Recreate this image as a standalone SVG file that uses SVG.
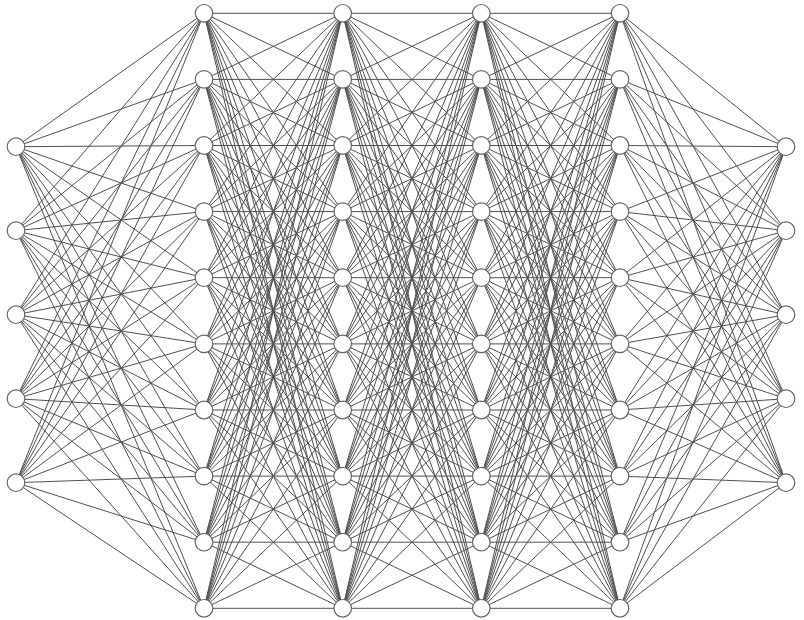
<svg xmlns="http://www.w3.org/2000/svg" width="804" height="620" viewBox="0 0 804 620">
<style>
.e line{stroke:#505050;stroke-width:1;fill:none}
.n{fill:#fff;stroke:#666;stroke-width:1.2}
</style>
<rect width="804" height="620" fill="#fff"/>
<g id="connectors" class="e">
<line x1="16" y1="146.7" x2="204" y2="13.3"/><line x1="16" y1="146.7" x2="204" y2="79.4"/><line x1="16" y1="146.7" x2="204" y2="145.5"/><line x1="16" y1="146.7" x2="204" y2="211.6"/><line x1="16" y1="146.7" x2="204" y2="277.7"/><line x1="16" y1="146.7" x2="204" y2="343.9"/><line x1="16" y1="146.7" x2="204" y2="410"/><line x1="16" y1="146.7" x2="204" y2="476.1"/><line x1="16" y1="146.7" x2="204" y2="542.2"/><line x1="16" y1="146.7" x2="204" y2="608.3"/>
<line x1="16" y1="230.7" x2="204" y2="13.3"/><line x1="16" y1="230.7" x2="204" y2="79.4"/><line x1="16" y1="230.7" x2="204" y2="145.5"/><line x1="16" y1="230.7" x2="204" y2="211.6"/><line x1="16" y1="230.7" x2="204" y2="277.7"/><line x1="16" y1="230.7" x2="204" y2="343.9"/><line x1="16" y1="230.7" x2="204" y2="410"/><line x1="16" y1="230.7" x2="204" y2="476.1"/><line x1="16" y1="230.7" x2="204" y2="542.2"/><line x1="16" y1="230.7" x2="204" y2="608.3"/>
<line x1="16" y1="314.7" x2="204" y2="13.3"/><line x1="16" y1="314.7" x2="204" y2="79.4"/><line x1="16" y1="314.7" x2="204" y2="145.5"/><line x1="16" y1="314.7" x2="204" y2="211.6"/><line x1="16" y1="314.7" x2="204" y2="277.7"/><line x1="16" y1="314.7" x2="204" y2="343.9"/><line x1="16" y1="314.7" x2="204" y2="410"/><line x1="16" y1="314.7" x2="204" y2="476.1"/><line x1="16" y1="314.7" x2="204" y2="542.2"/><line x1="16" y1="314.7" x2="204" y2="608.3"/>
<line x1="16" y1="398.7" x2="204" y2="13.3"/><line x1="16" y1="398.7" x2="204" y2="79.4"/><line x1="16" y1="398.7" x2="204" y2="145.5"/><line x1="16" y1="398.7" x2="204" y2="211.6"/><line x1="16" y1="398.7" x2="204" y2="277.7"/><line x1="16" y1="398.7" x2="204" y2="343.9"/><line x1="16" y1="398.7" x2="204" y2="410"/><line x1="16" y1="398.7" x2="204" y2="476.1"/><line x1="16" y1="398.7" x2="204" y2="542.2"/><line x1="16" y1="398.7" x2="204" y2="608.3"/>
<line x1="16" y1="482.7" x2="204" y2="13.3"/><line x1="16" y1="482.7" x2="204" y2="79.4"/><line x1="16" y1="482.7" x2="204" y2="145.5"/><line x1="16" y1="482.7" x2="204" y2="211.6"/><line x1="16" y1="482.7" x2="204" y2="277.7"/><line x1="16" y1="482.7" x2="204" y2="343.9"/><line x1="16" y1="482.7" x2="204" y2="410"/><line x1="16" y1="482.7" x2="204" y2="476.1"/><line x1="16" y1="482.7" x2="204" y2="542.2"/><line x1="16" y1="482.7" x2="204" y2="608.3"/>

<line x1="204" y1="13.3" x2="342.7" y2="13.3"/><line x1="204" y1="13.3" x2="342.7" y2="79.4"/><line x1="204" y1="13.3" x2="342.7" y2="145.5"/><line x1="204" y1="13.3" x2="342.7" y2="211.6"/><line x1="204" y1="13.3" x2="342.7" y2="277.7"/><line x1="204" y1="13.3" x2="342.7" y2="343.9"/><line x1="204" y1="13.3" x2="342.7" y2="410"/><line x1="204" y1="13.3" x2="342.7" y2="476.1"/><line x1="204" y1="13.3" x2="342.7" y2="542.2"/><line x1="204" y1="13.3" x2="342.7" y2="608.3"/>
<line x1="204" y1="79.4" x2="342.7" y2="13.3"/><line x1="204" y1="79.4" x2="342.7" y2="79.4"/><line x1="204" y1="79.4" x2="342.7" y2="145.5"/><line x1="204" y1="79.4" x2="342.7" y2="211.6"/><line x1="204" y1="79.4" x2="342.7" y2="277.7"/><line x1="204" y1="79.4" x2="342.7" y2="343.9"/><line x1="204" y1="79.4" x2="342.7" y2="410"/><line x1="204" y1="79.4" x2="342.7" y2="476.1"/><line x1="204" y1="79.4" x2="342.7" y2="542.2"/><line x1="204" y1="79.4" x2="342.7" y2="608.3"/>
<line x1="204" y1="145.5" x2="342.7" y2="13.3"/><line x1="204" y1="145.5" x2="342.7" y2="79.4"/><line x1="204" y1="145.5" x2="342.7" y2="145.5"/><line x1="204" y1="145.5" x2="342.7" y2="211.6"/><line x1="204" y1="145.5" x2="342.7" y2="277.7"/><line x1="204" y1="145.5" x2="342.7" y2="343.9"/><line x1="204" y1="145.5" x2="342.7" y2="410"/><line x1="204" y1="145.5" x2="342.7" y2="476.1"/><line x1="204" y1="145.5" x2="342.7" y2="542.2"/><line x1="204" y1="145.5" x2="342.7" y2="608.3"/>
<line x1="204" y1="211.6" x2="342.7" y2="13.3"/><line x1="204" y1="211.6" x2="342.7" y2="79.4"/><line x1="204" y1="211.6" x2="342.7" y2="145.5"/><line x1="204" y1="211.6" x2="342.7" y2="211.6"/><line x1="204" y1="211.6" x2="342.7" y2="277.7"/><line x1="204" y1="211.6" x2="342.7" y2="343.9"/><line x1="204" y1="211.6" x2="342.7" y2="410"/><line x1="204" y1="211.6" x2="342.7" y2="476.1"/><line x1="204" y1="211.6" x2="342.7" y2="542.2"/><line x1="204" y1="211.6" x2="342.7" y2="608.3"/>
<line x1="204" y1="277.7" x2="342.7" y2="13.3"/><line x1="204" y1="277.7" x2="342.7" y2="79.4"/><line x1="204" y1="277.7" x2="342.7" y2="145.5"/><line x1="204" y1="277.7" x2="342.7" y2="211.6"/><line x1="204" y1="277.7" x2="342.7" y2="277.7"/><line x1="204" y1="277.7" x2="342.7" y2="343.9"/><line x1="204" y1="277.7" x2="342.7" y2="410"/><line x1="204" y1="277.7" x2="342.7" y2="476.1"/><line x1="204" y1="277.7" x2="342.7" y2="542.2"/><line x1="204" y1="277.7" x2="342.7" y2="608.3"/>
<line x1="204" y1="343.9" x2="342.7" y2="13.3"/><line x1="204" y1="343.9" x2="342.7" y2="79.4"/><line x1="204" y1="343.9" x2="342.7" y2="145.5"/><line x1="204" y1="343.9" x2="342.7" y2="211.6"/><line x1="204" y1="343.9" x2="342.7" y2="277.7"/><line x1="204" y1="343.9" x2="342.7" y2="343.9"/><line x1="204" y1="343.9" x2="342.7" y2="410"/><line x1="204" y1="343.9" x2="342.7" y2="476.1"/><line x1="204" y1="343.9" x2="342.7" y2="542.2"/><line x1="204" y1="343.9" x2="342.7" y2="608.3"/>
<line x1="204" y1="410" x2="342.7" y2="13.3"/><line x1="204" y1="410" x2="342.7" y2="79.4"/><line x1="204" y1="410" x2="342.7" y2="145.5"/><line x1="204" y1="410" x2="342.7" y2="211.6"/><line x1="204" y1="410" x2="342.7" y2="277.7"/><line x1="204" y1="410" x2="342.7" y2="343.9"/><line x1="204" y1="410" x2="342.7" y2="410"/><line x1="204" y1="410" x2="342.7" y2="476.1"/><line x1="204" y1="410" x2="342.7" y2="542.2"/><line x1="204" y1="410" x2="342.7" y2="608.3"/>
<line x1="204" y1="476.1" x2="342.7" y2="13.3"/><line x1="204" y1="476.1" x2="342.7" y2="79.4"/><line x1="204" y1="476.1" x2="342.7" y2="145.5"/><line x1="204" y1="476.1" x2="342.7" y2="211.6"/><line x1="204" y1="476.1" x2="342.7" y2="277.7"/><line x1="204" y1="476.1" x2="342.7" y2="343.9"/><line x1="204" y1="476.1" x2="342.7" y2="410"/><line x1="204" y1="476.1" x2="342.7" y2="476.1"/><line x1="204" y1="476.1" x2="342.7" y2="542.2"/><line x1="204" y1="476.1" x2="342.7" y2="608.3"/>
<line x1="204" y1="542.2" x2="342.7" y2="13.3"/><line x1="204" y1="542.2" x2="342.7" y2="79.4"/><line x1="204" y1="542.2" x2="342.7" y2="145.5"/><line x1="204" y1="542.2" x2="342.7" y2="211.6"/><line x1="204" y1="542.2" x2="342.7" y2="277.7"/><line x1="204" y1="542.2" x2="342.7" y2="343.9"/><line x1="204" y1="542.2" x2="342.7" y2="410"/><line x1="204" y1="542.2" x2="342.7" y2="476.1"/><line x1="204" y1="542.2" x2="342.7" y2="542.2"/><line x1="204" y1="542.2" x2="342.7" y2="608.3"/>
<line x1="204" y1="608.3" x2="342.7" y2="13.3"/><line x1="204" y1="608.3" x2="342.7" y2="79.4"/><line x1="204" y1="608.3" x2="342.7" y2="145.5"/><line x1="204" y1="608.3" x2="342.7" y2="211.6"/><line x1="204" y1="608.3" x2="342.7" y2="277.7"/><line x1="204" y1="608.3" x2="342.7" y2="343.9"/><line x1="204" y1="608.3" x2="342.7" y2="410"/><line x1="204" y1="608.3" x2="342.7" y2="476.1"/><line x1="204" y1="608.3" x2="342.7" y2="542.2"/><line x1="204" y1="608.3" x2="342.7" y2="608.3"/>

<line x1="342.7" y1="13.3" x2="481.3" y2="13.3"/><line x1="342.7" y1="13.3" x2="481.3" y2="79.4"/><line x1="342.7" y1="13.3" x2="481.3" y2="145.5"/><line x1="342.7" y1="13.3" x2="481.3" y2="211.6"/><line x1="342.7" y1="13.3" x2="481.3" y2="277.7"/><line x1="342.7" y1="13.3" x2="481.3" y2="343.9"/><line x1="342.7" y1="13.3" x2="481.3" y2="410"/><line x1="342.7" y1="13.3" x2="481.3" y2="476.1"/><line x1="342.7" y1="13.3" x2="481.3" y2="542.2"/><line x1="342.7" y1="13.3" x2="481.3" y2="608.3"/>
<line x1="342.7" y1="79.4" x2="481.3" y2="13.3"/><line x1="342.7" y1="79.4" x2="481.3" y2="79.4"/><line x1="342.7" y1="79.4" x2="481.3" y2="145.5"/><line x1="342.7" y1="79.4" x2="481.3" y2="211.6"/><line x1="342.7" y1="79.4" x2="481.3" y2="277.7"/><line x1="342.7" y1="79.4" x2="481.3" y2="343.9"/><line x1="342.7" y1="79.4" x2="481.3" y2="410"/><line x1="342.7" y1="79.4" x2="481.3" y2="476.1"/><line x1="342.7" y1="79.4" x2="481.3" y2="542.2"/><line x1="342.7" y1="79.4" x2="481.3" y2="608.3"/>
<line x1="342.7" y1="145.5" x2="481.3" y2="13.3"/><line x1="342.7" y1="145.5" x2="481.3" y2="79.4"/><line x1="342.7" y1="145.5" x2="481.3" y2="145.5"/><line x1="342.7" y1="145.5" x2="481.3" y2="211.6"/><line x1="342.7" y1="145.5" x2="481.3" y2="277.7"/><line x1="342.7" y1="145.5" x2="481.3" y2="343.9"/><line x1="342.7" y1="145.5" x2="481.3" y2="410"/><line x1="342.7" y1="145.5" x2="481.3" y2="476.1"/><line x1="342.7" y1="145.5" x2="481.3" y2="542.2"/><line x1="342.7" y1="145.5" x2="481.3" y2="608.3"/>
<line x1="342.7" y1="211.6" x2="481.3" y2="13.3"/><line x1="342.7" y1="211.6" x2="481.3" y2="79.4"/><line x1="342.7" y1="211.6" x2="481.3" y2="145.5"/><line x1="342.7" y1="211.6" x2="481.3" y2="211.6"/><line x1="342.7" y1="211.6" x2="481.3" y2="277.7"/><line x1="342.7" y1="211.6" x2="481.3" y2="343.9"/><line x1="342.7" y1="211.6" x2="481.3" y2="410"/><line x1="342.7" y1="211.6" x2="481.3" y2="476.1"/><line x1="342.7" y1="211.6" x2="481.3" y2="542.2"/><line x1="342.7" y1="211.6" x2="481.3" y2="608.3"/>
<line x1="342.7" y1="277.7" x2="481.3" y2="13.3"/><line x1="342.7" y1="277.7" x2="481.3" y2="79.4"/><line x1="342.7" y1="277.7" x2="481.3" y2="145.5"/><line x1="342.7" y1="277.7" x2="481.3" y2="211.6"/><line x1="342.7" y1="277.7" x2="481.3" y2="277.7"/><line x1="342.7" y1="277.7" x2="481.3" y2="343.9"/><line x1="342.7" y1="277.7" x2="481.3" y2="410"/><line x1="342.7" y1="277.7" x2="481.3" y2="476.1"/><line x1="342.7" y1="277.7" x2="481.3" y2="542.2"/><line x1="342.7" y1="277.7" x2="481.3" y2="608.3"/>
<line x1="342.7" y1="343.9" x2="481.3" y2="13.3"/><line x1="342.7" y1="343.9" x2="481.3" y2="79.4"/><line x1="342.7" y1="343.9" x2="481.3" y2="145.5"/><line x1="342.7" y1="343.9" x2="481.3" y2="211.6"/><line x1="342.7" y1="343.9" x2="481.3" y2="277.7"/><line x1="342.7" y1="343.9" x2="481.3" y2="343.9"/><line x1="342.7" y1="343.9" x2="481.3" y2="410"/><line x1="342.7" y1="343.9" x2="481.3" y2="476.1"/><line x1="342.7" y1="343.9" x2="481.3" y2="542.2"/><line x1="342.7" y1="343.9" x2="481.3" y2="608.3"/>
<line x1="342.7" y1="410" x2="481.3" y2="13.3"/><line x1="342.7" y1="410" x2="481.3" y2="79.4"/><line x1="342.7" y1="410" x2="481.3" y2="145.5"/><line x1="342.7" y1="410" x2="481.3" y2="211.6"/><line x1="342.7" y1="410" x2="481.3" y2="277.7"/><line x1="342.7" y1="410" x2="481.3" y2="343.9"/><line x1="342.7" y1="410" x2="481.3" y2="410"/><line x1="342.7" y1="410" x2="481.3" y2="476.1"/><line x1="342.7" y1="410" x2="481.3" y2="542.2"/><line x1="342.7" y1="410" x2="481.3" y2="608.3"/>
<line x1="342.7" y1="476.1" x2="481.3" y2="13.3"/><line x1="342.7" y1="476.1" x2="481.3" y2="79.4"/><line x1="342.7" y1="476.1" x2="481.3" y2="145.5"/><line x1="342.7" y1="476.1" x2="481.3" y2="211.6"/><line x1="342.7" y1="476.1" x2="481.3" y2="277.7"/><line x1="342.7" y1="476.1" x2="481.3" y2="343.9"/><line x1="342.7" y1="476.1" x2="481.3" y2="410"/><line x1="342.7" y1="476.1" x2="481.3" y2="476.1"/><line x1="342.7" y1="476.1" x2="481.3" y2="542.2"/><line x1="342.7" y1="476.1" x2="481.3" y2="608.3"/>
<line x1="342.7" y1="542.2" x2="481.3" y2="13.3"/><line x1="342.7" y1="542.2" x2="481.3" y2="79.4"/><line x1="342.7" y1="542.2" x2="481.3" y2="145.5"/><line x1="342.7" y1="542.2" x2="481.3" y2="211.6"/><line x1="342.7" y1="542.2" x2="481.3" y2="277.7"/><line x1="342.7" y1="542.2" x2="481.3" y2="343.9"/><line x1="342.7" y1="542.2" x2="481.3" y2="410"/><line x1="342.7" y1="542.2" x2="481.3" y2="476.1"/><line x1="342.7" y1="542.2" x2="481.3" y2="542.2"/><line x1="342.7" y1="542.2" x2="481.3" y2="608.3"/>
<line x1="342.7" y1="608.3" x2="481.3" y2="13.3"/><line x1="342.7" y1="608.3" x2="481.3" y2="79.4"/><line x1="342.7" y1="608.3" x2="481.3" y2="145.5"/><line x1="342.7" y1="608.3" x2="481.3" y2="211.6"/><line x1="342.7" y1="608.3" x2="481.3" y2="277.7"/><line x1="342.7" y1="608.3" x2="481.3" y2="343.9"/><line x1="342.7" y1="608.3" x2="481.3" y2="410"/><line x1="342.7" y1="608.3" x2="481.3" y2="476.1"/><line x1="342.7" y1="608.3" x2="481.3" y2="542.2"/><line x1="342.7" y1="608.3" x2="481.3" y2="608.3"/>

<line x1="481.3" y1="13.3" x2="620" y2="13.3"/><line x1="481.3" y1="13.3" x2="620" y2="79.4"/><line x1="481.3" y1="13.3" x2="620" y2="145.5"/><line x1="481.3" y1="13.3" x2="620" y2="211.6"/><line x1="481.3" y1="13.3" x2="620" y2="277.7"/><line x1="481.3" y1="13.3" x2="620" y2="343.9"/><line x1="481.3" y1="13.3" x2="620" y2="410"/><line x1="481.3" y1="13.3" x2="620" y2="476.1"/><line x1="481.3" y1="13.3" x2="620" y2="542.2"/><line x1="481.3" y1="13.3" x2="620" y2="608.3"/>
<line x1="481.3" y1="79.4" x2="620" y2="13.3"/><line x1="481.3" y1="79.4" x2="620" y2="79.4"/><line x1="481.3" y1="79.4" x2="620" y2="145.5"/><line x1="481.3" y1="79.4" x2="620" y2="211.6"/><line x1="481.3" y1="79.4" x2="620" y2="277.7"/><line x1="481.3" y1="79.4" x2="620" y2="343.9"/><line x1="481.3" y1="79.4" x2="620" y2="410"/><line x1="481.3" y1="79.4" x2="620" y2="476.1"/><line x1="481.3" y1="79.4" x2="620" y2="542.2"/><line x1="481.3" y1="79.4" x2="620" y2="608.3"/>
<line x1="481.3" y1="145.5" x2="620" y2="13.3"/><line x1="481.3" y1="145.5" x2="620" y2="79.4"/><line x1="481.3" y1="145.5" x2="620" y2="145.5"/><line x1="481.3" y1="145.5" x2="620" y2="211.6"/><line x1="481.3" y1="145.5" x2="620" y2="277.7"/><line x1="481.3" y1="145.5" x2="620" y2="343.9"/><line x1="481.3" y1="145.5" x2="620" y2="410"/><line x1="481.3" y1="145.5" x2="620" y2="476.1"/><line x1="481.3" y1="145.5" x2="620" y2="542.2"/><line x1="481.3" y1="145.5" x2="620" y2="608.3"/>
<line x1="481.3" y1="211.6" x2="620" y2="13.3"/><line x1="481.3" y1="211.6" x2="620" y2="79.4"/><line x1="481.3" y1="211.6" x2="620" y2="145.5"/><line x1="481.3" y1="211.6" x2="620" y2="211.6"/><line x1="481.3" y1="211.6" x2="620" y2="277.7"/><line x1="481.3" y1="211.6" x2="620" y2="343.9"/><line x1="481.3" y1="211.6" x2="620" y2="410"/><line x1="481.3" y1="211.6" x2="620" y2="476.1"/><line x1="481.3" y1="211.6" x2="620" y2="542.2"/><line x1="481.3" y1="211.6" x2="620" y2="608.3"/>
<line x1="481.3" y1="277.7" x2="620" y2="13.3"/><line x1="481.3" y1="277.7" x2="620" y2="79.4"/><line x1="481.3" y1="277.7" x2="620" y2="145.5"/><line x1="481.3" y1="277.7" x2="620" y2="211.6"/><line x1="481.3" y1="277.7" x2="620" y2="277.7"/><line x1="481.3" y1="277.7" x2="620" y2="343.9"/><line x1="481.3" y1="277.7" x2="620" y2="410"/><line x1="481.3" y1="277.7" x2="620" y2="476.1"/><line x1="481.3" y1="277.7" x2="620" y2="542.2"/><line x1="481.3" y1="277.7" x2="620" y2="608.3"/>
<line x1="481.3" y1="343.9" x2="620" y2="13.3"/><line x1="481.3" y1="343.9" x2="620" y2="79.4"/><line x1="481.3" y1="343.9" x2="620" y2="145.5"/><line x1="481.3" y1="343.9" x2="620" y2="211.6"/><line x1="481.3" y1="343.9" x2="620" y2="277.7"/><line x1="481.3" y1="343.9" x2="620" y2="343.9"/><line x1="481.3" y1="343.9" x2="620" y2="410"/><line x1="481.3" y1="343.9" x2="620" y2="476.1"/><line x1="481.3" y1="343.9" x2="620" y2="542.2"/><line x1="481.3" y1="343.9" x2="620" y2="608.3"/>
<line x1="481.3" y1="410" x2="620" y2="13.3"/><line x1="481.3" y1="410" x2="620" y2="79.4"/><line x1="481.3" y1="410" x2="620" y2="145.5"/><line x1="481.3" y1="410" x2="620" y2="211.6"/><line x1="481.3" y1="410" x2="620" y2="277.7"/><line x1="481.3" y1="410" x2="620" y2="343.9"/><line x1="481.3" y1="410" x2="620" y2="410"/><line x1="481.3" y1="410" x2="620" y2="476.1"/><line x1="481.3" y1="410" x2="620" y2="542.2"/><line x1="481.3" y1="410" x2="620" y2="608.3"/>
<line x1="481.3" y1="476.1" x2="620" y2="13.3"/><line x1="481.3" y1="476.1" x2="620" y2="79.4"/><line x1="481.3" y1="476.1" x2="620" y2="145.5"/><line x1="481.3" y1="476.1" x2="620" y2="211.6"/><line x1="481.3" y1="476.1" x2="620" y2="277.7"/><line x1="481.3" y1="476.1" x2="620" y2="343.9"/><line x1="481.3" y1="476.1" x2="620" y2="410"/><line x1="481.3" y1="476.1" x2="620" y2="476.1"/><line x1="481.3" y1="476.1" x2="620" y2="542.2"/><line x1="481.3" y1="476.1" x2="620" y2="608.3"/>
<line x1="481.3" y1="542.2" x2="620" y2="13.3"/><line x1="481.3" y1="542.2" x2="620" y2="79.4"/><line x1="481.3" y1="542.2" x2="620" y2="145.5"/><line x1="481.3" y1="542.2" x2="620" y2="211.6"/><line x1="481.3" y1="542.2" x2="620" y2="277.7"/><line x1="481.3" y1="542.2" x2="620" y2="343.9"/><line x1="481.3" y1="542.2" x2="620" y2="410"/><line x1="481.3" y1="542.2" x2="620" y2="476.1"/><line x1="481.3" y1="542.2" x2="620" y2="542.2"/><line x1="481.3" y1="542.2" x2="620" y2="608.3"/>
<line x1="481.3" y1="608.3" x2="620" y2="13.3"/><line x1="481.3" y1="608.3" x2="620" y2="79.4"/><line x1="481.3" y1="608.3" x2="620" y2="145.5"/><line x1="481.3" y1="608.3" x2="620" y2="211.6"/><line x1="481.3" y1="608.3" x2="620" y2="277.7"/><line x1="481.3" y1="608.3" x2="620" y2="343.9"/><line x1="481.3" y1="608.3" x2="620" y2="410"/><line x1="481.3" y1="608.3" x2="620" y2="476.1"/><line x1="481.3" y1="608.3" x2="620" y2="542.2"/><line x1="481.3" y1="608.3" x2="620" y2="608.3"/>

<line x1="620" y1="13.3" x2="786" y2="146.7"/><line x1="620" y1="13.3" x2="786" y2="230.7"/><line x1="620" y1="13.3" x2="786" y2="314.7"/><line x1="620" y1="13.3" x2="786" y2="398.7"/><line x1="620" y1="13.3" x2="786" y2="482.7"/>
<line x1="620" y1="79.4" x2="786" y2="146.7"/><line x1="620" y1="79.4" x2="786" y2="230.7"/><line x1="620" y1="79.4" x2="786" y2="314.7"/><line x1="620" y1="79.4" x2="786" y2="398.7"/><line x1="620" y1="79.4" x2="786" y2="482.7"/>
<line x1="620" y1="145.5" x2="786" y2="146.7"/><line x1="620" y1="145.5" x2="786" y2="230.7"/><line x1="620" y1="145.5" x2="786" y2="314.7"/><line x1="620" y1="145.5" x2="786" y2="398.7"/><line x1="620" y1="145.5" x2="786" y2="482.7"/>
<line x1="620" y1="211.6" x2="786" y2="146.7"/><line x1="620" y1="211.6" x2="786" y2="230.7"/><line x1="620" y1="211.6" x2="786" y2="314.7"/><line x1="620" y1="211.6" x2="786" y2="398.7"/><line x1="620" y1="211.6" x2="786" y2="482.7"/>
<line x1="620" y1="277.7" x2="786" y2="146.7"/><line x1="620" y1="277.7" x2="786" y2="230.7"/><line x1="620" y1="277.7" x2="786" y2="314.7"/><line x1="620" y1="277.7" x2="786" y2="398.7"/><line x1="620" y1="277.7" x2="786" y2="482.7"/>
<line x1="620" y1="343.9" x2="786" y2="146.7"/><line x1="620" y1="343.9" x2="786" y2="230.7"/><line x1="620" y1="343.9" x2="786" y2="314.7"/><line x1="620" y1="343.9" x2="786" y2="398.7"/><line x1="620" y1="343.9" x2="786" y2="482.7"/>
<line x1="620" y1="410" x2="786" y2="146.7"/><line x1="620" y1="410" x2="786" y2="230.7"/><line x1="620" y1="410" x2="786" y2="314.7"/><line x1="620" y1="410" x2="786" y2="398.7"/><line x1="620" y1="410" x2="786" y2="482.7"/>
<line x1="620" y1="476.1" x2="786" y2="146.7"/><line x1="620" y1="476.1" x2="786" y2="230.7"/><line x1="620" y1="476.1" x2="786" y2="314.7"/><line x1="620" y1="476.1" x2="786" y2="398.7"/><line x1="620" y1="476.1" x2="786" y2="482.7"/>
<line x1="620" y1="542.2" x2="786" y2="146.7"/><line x1="620" y1="542.2" x2="786" y2="230.7"/><line x1="620" y1="542.2" x2="786" y2="314.7"/><line x1="620" y1="542.2" x2="786" y2="398.7"/><line x1="620" y1="542.2" x2="786" y2="482.7"/>
<line x1="620" y1="608.3" x2="786" y2="146.7"/><line x1="620" y1="608.3" x2="786" y2="230.7"/><line x1="620" y1="608.3" x2="786" y2="314.7"/><line x1="620" y1="608.3" x2="786" y2="398.7"/><line x1="620" y1="608.3" x2="786" y2="482.7"/>
</g>
<g id="input-layer">
<g id="in1"><circle class="n" cx="16" cy="146.7" r="8.8"/></g>
<g id="in2"><circle class="n" cx="16" cy="230.7" r="8.8"/></g>
<g id="in3"><circle class="n" cx="16" cy="314.7" r="8.8"/></g>
<g id="in4"><circle class="n" cx="16" cy="398.7" r="8.8"/></g>
<g id="in5"><circle class="n" cx="16" cy="482.7" r="8.8"/></g>
</g>
<g id="hidden-1">
<g id="h1n1"><circle class="n" cx="204" cy="13.3" r="8.8"/></g>
<g id="h1n2"><circle class="n" cx="204" cy="79.4" r="8.8"/></g>
<g id="h1n3"><circle class="n" cx="204" cy="145.5" r="8.8"/></g>
<g id="h1n4"><circle class="n" cx="204" cy="211.6" r="8.8"/></g>
<g id="h1n5"><circle class="n" cx="204" cy="277.7" r="8.8"/></g>
<g id="h1n6"><circle class="n" cx="204" cy="343.9" r="8.8"/></g>
<g id="h1n7"><circle class="n" cx="204" cy="410" r="8.8"/></g>
<g id="h1n8"><circle class="n" cx="204" cy="476.1" r="8.8"/></g>
<g id="h1n9"><circle class="n" cx="204" cy="542.2" r="8.8"/></g>
<g id="h1n10"><circle class="n" cx="204" cy="608.3" r="8.8"/></g>
</g>
<g id="hidden-2">
<g id="h2n1"><circle class="n" cx="342.7" cy="13.3" r="8.8"/></g>
<g id="h2n2"><circle class="n" cx="342.7" cy="79.4" r="8.8"/></g>
<g id="h2n3"><circle class="n" cx="342.7" cy="145.5" r="8.8"/></g>
<g id="h2n4"><circle class="n" cx="342.7" cy="211.6" r="8.8"/></g>
<g id="h2n5"><circle class="n" cx="342.7" cy="277.7" r="8.8"/></g>
<g id="h2n6"><circle class="n" cx="342.7" cy="343.9" r="8.8"/></g>
<g id="h2n7"><circle class="n" cx="342.7" cy="410" r="8.8"/></g>
<g id="h2n8"><circle class="n" cx="342.7" cy="476.1" r="8.8"/></g>
<g id="h2n9"><circle class="n" cx="342.7" cy="542.2" r="8.8"/></g>
<g id="h2n10"><circle class="n" cx="342.7" cy="608.3" r="8.8"/></g>
</g>
<g id="hidden-3">
<g id="h3n1"><circle class="n" cx="481.3" cy="13.3" r="8.8"/></g>
<g id="h3n2"><circle class="n" cx="481.3" cy="79.4" r="8.8"/></g>
<g id="h3n3"><circle class="n" cx="481.3" cy="145.5" r="8.8"/></g>
<g id="h3n4"><circle class="n" cx="481.3" cy="211.6" r="8.8"/></g>
<g id="h3n5"><circle class="n" cx="481.3" cy="277.7" r="8.8"/></g>
<g id="h3n6"><circle class="n" cx="481.3" cy="343.9" r="8.8"/></g>
<g id="h3n7"><circle class="n" cx="481.3" cy="410" r="8.8"/></g>
<g id="h3n8"><circle class="n" cx="481.3" cy="476.1" r="8.8"/></g>
<g id="h3n9"><circle class="n" cx="481.3" cy="542.2" r="8.8"/></g>
<g id="h3n10"><circle class="n" cx="481.3" cy="608.3" r="8.8"/></g>
</g>
<g id="hidden-4">
<g id="h4n1"><circle class="n" cx="620" cy="13.3" r="8.8"/></g>
<g id="h4n2"><circle class="n" cx="620" cy="79.4" r="8.8"/></g>
<g id="h4n3"><circle class="n" cx="620" cy="145.5" r="8.8"/></g>
<g id="h4n4"><circle class="n" cx="620" cy="211.6" r="8.8"/></g>
<g id="h4n5"><circle class="n" cx="620" cy="277.7" r="8.8"/></g>
<g id="h4n6"><circle class="n" cx="620" cy="343.9" r="8.8"/></g>
<g id="h4n7"><circle class="n" cx="620" cy="410" r="8.8"/></g>
<g id="h4n8"><circle class="n" cx="620" cy="476.1" r="8.8"/></g>
<g id="h4n9"><circle class="n" cx="620" cy="542.2" r="8.8"/></g>
<g id="h4n10"><circle class="n" cx="620" cy="608.3" r="8.8"/></g>
</g>
<g id="output-layer">
<g id="out1"><circle class="n" cx="786" cy="146.7" r="8.8"/></g>
<g id="out2"><circle class="n" cx="786" cy="230.7" r="8.8"/></g>
<g id="out3"><circle class="n" cx="786" cy="314.7" r="8.8"/></g>
<g id="out4"><circle class="n" cx="786" cy="398.7" r="8.8"/></g>
<g id="out5"><circle class="n" cx="786" cy="482.7" r="8.8"/></g>
</g>
</svg>
